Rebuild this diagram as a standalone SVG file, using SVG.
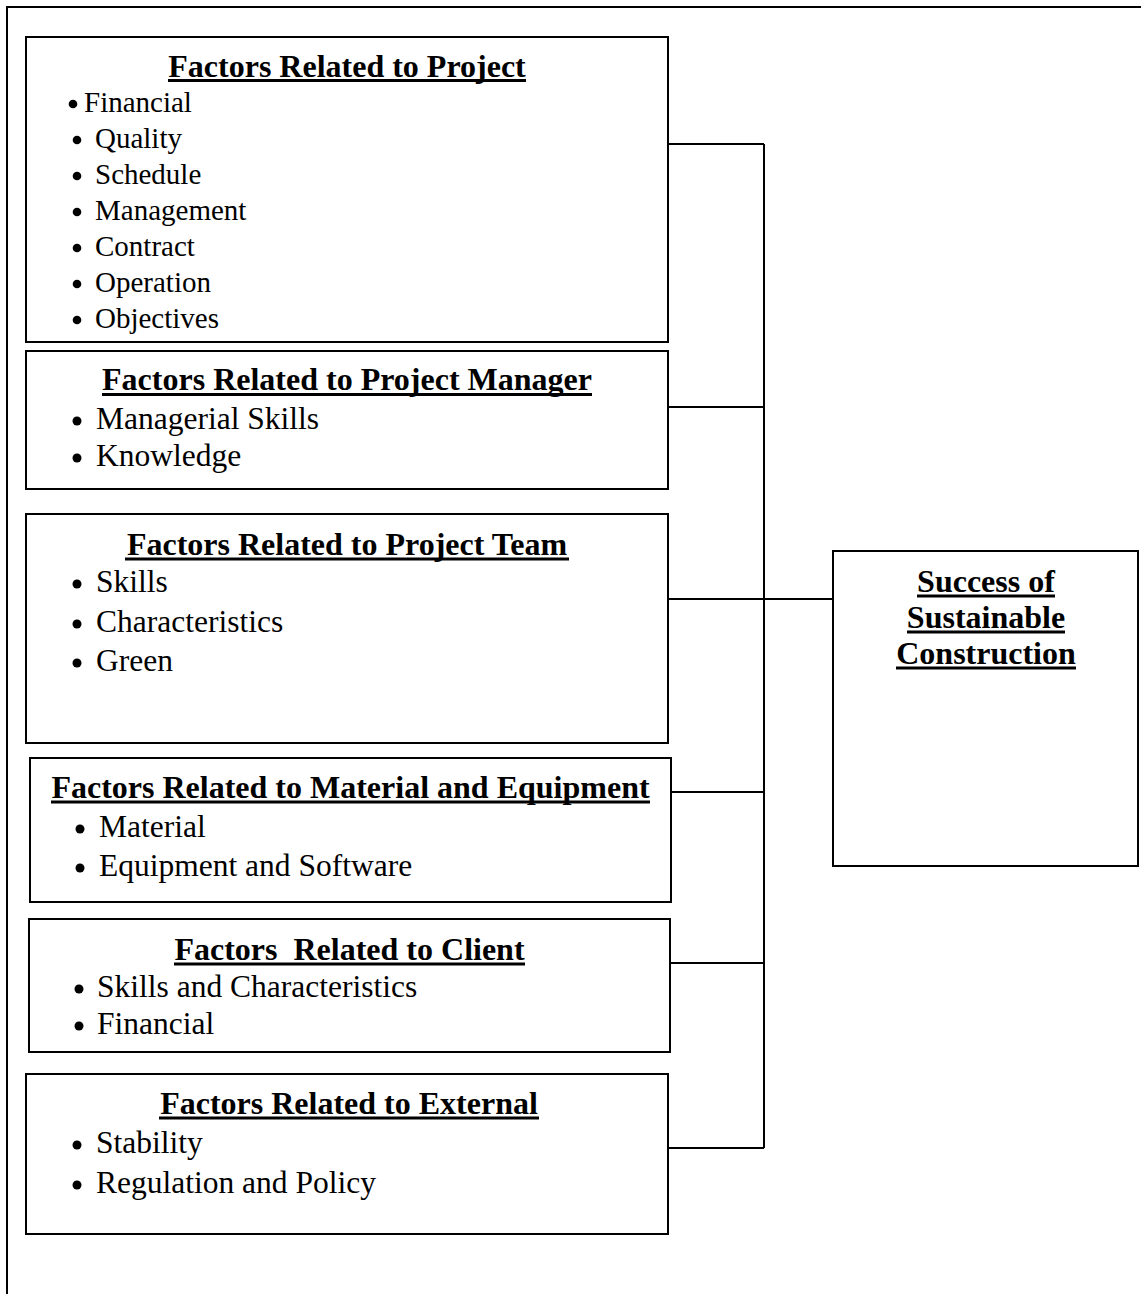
<svg xmlns="http://www.w3.org/2000/svg" width="1141" height="1294" viewBox="0 0 1141 1294">
<style>
.box{fill:#fff;stroke:#000;stroke-width:2}
.frame{fill:none;stroke:#000;stroke-width:2}
.conn{fill:none;stroke:#000;stroke-width:2}
.t{font-family:"Liberation Serif","Times New Roman",serif;font-weight:bold;font-size:32px;text-anchor:middle;fill:#000}
.i{font-family:"Liberation Serif","Times New Roman",serif;font-size:31.5px;fill:#000}
.i1{font-family:"Liberation Serif","Times New Roman",serif;font-size:29px;fill:#000}
.u{stroke:#000;stroke-width:3}
.b{fill:#000}
</style>
<rect width="1141" height="1294" fill="#fff"/>
<g id="frame">
<path class="frame" d="M7,1294 V7 H1141"/>
</g>
<g id="connectors">
<path class="conn" d="M668,144 H764 M668,407 H764 M668,599 H833 M671,792 H764 M670,963 H764 M668,1148 H764 M764,144 V1148"/>
</g>
<g id="node-project">
<rect class="box" x="26" y="37" width="642" height="305"/>
<text class="t" x="347" y="77">Factors Related to Project</text>
<line class="u" x1="168" y1="80.5" x2="526" y2="80.5"/>
<circle class="b" cx="73" cy="104" r="4.3"/><text class="i1" x="84" y="112">Financial</text>
<circle class="b" cx="77" cy="140" r="4.3"/><text class="i1" x="95" y="148">Quality</text>
<circle class="b" cx="77" cy="176" r="4.3"/><text class="i1" x="95" y="184">Schedule</text>
<circle class="b" cx="77" cy="212" r="4.3"/><text class="i1" x="95" y="220">Management</text>
<circle class="b" cx="77" cy="248" r="4.3"/><text class="i1" x="95" y="256">Contract</text>
<circle class="b" cx="77" cy="284" r="4.3"/><text class="i1" x="95" y="292">Operation</text>
<circle class="b" cx="77" cy="320" r="4.3"/><text class="i1" x="95" y="328">Objectives</text>
</g>
<g id="node-manager">
<rect class="box" x="26" y="351" width="642" height="138"/>
<text class="t" x="347" y="390">Factors Related to Project Manager</text>
<line class="u" x1="102" y1="394.5" x2="592" y2="394.5"/>
<circle class="b" cx="77" cy="421" r="4.5"/><text class="i" x="96" y="429">Managerial Skills</text>
<circle class="b" cx="77" cy="458" r="4.5"/><text class="i" x="96" y="466">Knowledge</text>
</g>
<g id="node-team">
<rect class="box" x="26" y="514" width="642" height="229"/>
<text class="t" x="347" y="555">Factors Related to Project Team</text>
<line class="u" x1="125" y1="559" x2="569" y2="559"/>
<circle class="b" cx="77" cy="584" r="4.5"/><text class="i" x="96" y="592">Skills</text>
<circle class="b" cx="77" cy="624" r="4.5"/><text class="i" x="96" y="632">Characteristics</text>
<circle class="b" cx="77" cy="663" r="4.5"/><text class="i" x="96" y="671">Green</text>
</g>
<g id="node-material">
<rect class="box" x="30" y="758" width="641" height="144"/>
<text class="t" x="350.5" y="798">Factors Related to Material and Equipment</text>
<line class="u" x1="51" y1="802" x2="650" y2="802"/>
<circle class="b" cx="80" cy="829" r="4.5"/><text class="i" x="99" y="837">Material</text>
<circle class="b" cx="80" cy="868" r="4.5"/><text class="i" x="99" y="876">Equipment and Software</text>
</g>
<g id="node-client">
<rect class="box" x="29" y="919" width="641" height="133"/>
<text class="t" x="349.5" y="960" style="white-space:pre">Factors  Related to Client</text>
<line class="u" x1="174" y1="964" x2="525" y2="964"/>
<circle class="b" cx="79" cy="989" r="4.5"/><text class="i" x="97" y="997">Skills and Characteristics</text>
<circle class="b" cx="79" cy="1026" r="4.5"/><text class="i" x="97" y="1034">Financial</text>
</g>
<g id="node-external">
<rect class="box" x="26" y="1074" width="642" height="160"/>
<text class="t" x="349" y="1114">Factors Related to External</text>
<line class="u" x1="159" y1="1118" x2="539" y2="1118"/>
<circle class="b" cx="77" cy="1145" r="4.5"/><text class="i" x="96" y="1153">Stability</text>
<circle class="b" cx="77" cy="1185" r="4.5"/><text class="i" x="96" y="1193">Regulation and Policy</text>
</g>
<g id="node-success">
<rect class="box" x="833" y="551" width="305" height="315"/>
<text class="t" x="986" y="592">Success of</text>
<line class="u" x1="917" y1="596" x2="1055" y2="596"/>
<text class="t" x="986" y="628">Sustainable</text>
<line class="u" x1="907" y1="632" x2="1065" y2="632"/>
<text class="t" x="986" y="664">Construction</text>
<line class="u" x1="896" y1="668" x2="1076" y2="668"/>
</g>
</svg>
